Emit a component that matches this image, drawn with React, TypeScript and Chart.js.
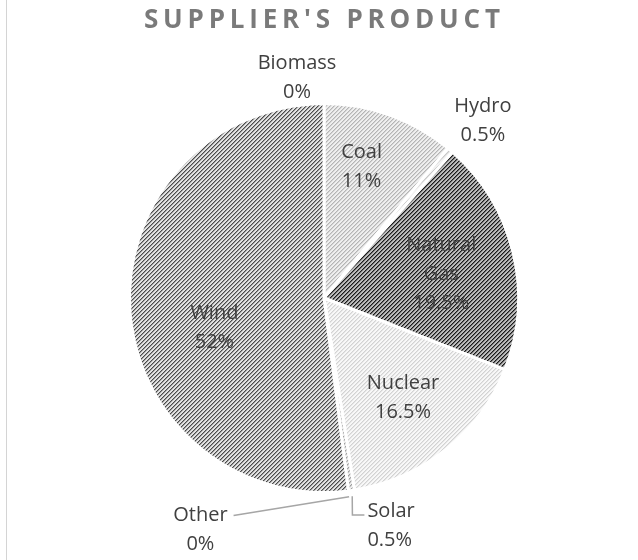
import React, { useEffect, useRef } from 'react';
import { Chart, registerables } from 'chart.js';

Chart.register(...registerables);

const titleText = "SUPPLIER'S PRODUCT";
const categories = ['Biomass', 'Coal', 'Hydro', 'Natural Gas', 'Nuclear', 'Solar', 'Other', 'Wind'];
const shares = [0, 11, 0.5, 19.5, 16.5, 0.5, 0, 52];
const shareLabels = ['0%', '11%', '0.5%', '19.5%', '16.5%', '0.5%', '0%', '52%'];

// hatch styles: background, stripe, stripe edge
const hatchBg = ['#e0e0e0', '#efefef', '#f2f2f2', '#bcbcbc', '#f8f8f8', '#ececec', '#e0e0e0', '#e2e2e2'];
const hatchFg = ['#808080', '#b4b4b4', '#c8c8c8', '#1a1a1a', '#d2d2d2', '#a0a0a0', '#808080', '#4a4a4a'];
const hatchMid = ['#b0b0b0', '#d4d4d4', '#dddddd', '#6e6e6e', '#e6e6e6', '#c6c6c6', '#b0b0b0', '#9c9c9c'];

type LabelCfg = { dist: number; dx: number; dy: number; align: CanvasTextAlign; wrap?: boolean; leader?: 'left' | 'right' };
const labelLayout: LabelCfg[] = [
  { dist: 1.138, dx: -27, dy: 0, align: 'center' },
  { dist: 0.722, dx: -10, dy: -1, align: 'center' },
  { dist: 1.226, dx: 4, dy: 3, align: 'center' },
  { dist: 0.62, dx: 0, dy: 2.5, align: 'center', wrap: true },
  { dist: 0.65, dx: 0, dy: 0, align: 'center' },
  { dist: 1.0, dx: 16, dy: 34, align: 'left', leader: 'left' },
  { dist: 1.0, dx: -148, dy: 37, align: 'center', leader: 'right' },
  { dist: 0.58, dx: 3, dy: 21, align: 'center' },
];

function makeHatch(bg: string, fg: string, mid: string): CanvasPattern | string {
  const c = document.createElement('canvas');
  c.width = 4;
  c.height = 4;
  const g = c.getContext('2d');
  if (!g) return bg;
  g.fillStyle = bg;
  g.fillRect(0, 0, 4, 4);
  for (let y = 0; y < 4; y++) {
    const x = 3 - y;
    g.fillStyle = fg;
    g.fillRect(x, y, 1, 1);
    g.fillStyle = mid;
    g.fillRect((x + 1) % 4, y, 1, 1);
  }
  return g.createPattern(c, 'repeat') || bg;
}

const LABEL_FONT = '20px "Open Sans"';
const LINE_H = 29;

const decorPlugin = {
  id: 'decor',
  afterDraw(chart: any) {
    const ctx: CanvasRenderingContext2D = chart.ctx;
    ctx.save();
    // left frame line
    ctx.strokeStyle = '#d4d4d4';
    ctx.lineWidth = 1;
    ctx.beginPath();
    ctx.moveTo(6.5, 0);
    ctx.lineTo(6.5, chart.height);
    ctx.stroke();

    // title
    ctx.font = 'bold 26px "Open Sans"';
    (ctx as any).letterSpacing = '0px';
    const w0 = ctx.measureText(titleText).width;
    const targetW = 356;
    const ls = (targetW - w0) / (titleText.length - 1);
    (ctx as any).letterSpacing = ls + 'px';
    ctx.fillStyle = '#7a7a7a';
    ctx.textAlign = 'left';
    ctx.textBaseline = 'alphabetic';
    ctx.fillText(titleText, 322 - targetW / 2, 28);
    (ctx as any).letterSpacing = '0px';

    // labels
    const meta = chart.getDatasetMeta(0);
    ctx.font = LABEL_FONT;
    ctx.fillStyle = '#404040';
    meta.data.forEach((arc: any, i: number) => {
      const p = arc.getProps(['x', 'y', 'startAngle', 'endAngle', 'outerRadius'], true);
      const cfg = labelLayout[i];
      const mid = (p.startAngle + p.endAngle) / 2;
      const lx = p.x + Math.cos(mid) * p.outerRadius * cfg.dist + cfg.dx;
      const ly = p.y + Math.sin(mid) * p.outerRadius * cfg.dist + cfg.dy;
      const lines = cfg.wrap ? [...categories[i].split(' '), shareLabels[i]] : [categories[i], shareLabels[i]];
      const top = ly - ((lines.length - 1) * LINE_H) / 2;
      ctx.textAlign = cfg.align;
      ctx.textBaseline = 'alphabetic';
      lines.forEach((t, k) => {
        ctx.fillText(t, lx, top + k * LINE_H + 7.2);
      });
      if (cfg.leader) {
        const rx = p.x + Math.cos(mid) * p.outerRadius * 1.03;
        const ry = p.y + Math.sin(mid) * p.outerRadius * 1.03;
        const firstW = ctx.measureText(lines[0]).width;
        ctx.strokeStyle = '#a6a6a6';
        ctx.lineWidth = 1.5;
        ctx.beginPath();
        if (cfg.leader === 'right') {
          const sx = (cfg.align === 'center' ? lx + firstW / 2 : lx + firstW) + 6;
          ctx.moveTo(sx, top + 2);
          ctx.lineTo(rx, ry);
        } else {
          const sx = lx - 3;
          ctx.moveTo(sx, top + 5);
          ctx.lineTo(sx - 12, top + 5);
          ctx.lineTo(rx, ry);
        }
        ctx.stroke();
      }
    });
    ctx.restore();
  },
};

export default function App() {
  const ref = useRef<HTMLCanvasElement | null>(null);
  useEffect(() => {
    if (!ref.current) return;
    const patterns = categories.map((_, i) => makeHatch(hatchBg[i], hatchFg[i], hatchMid[i]));
    const chart = new Chart(ref.current, {
      type: 'pie',
      data: {
        labels: categories,
        datasets: [
          {
            data: shares,
            backgroundColor: patterns as any,
            borderColor: '#ffffff',
            borderWidth: 3,
          },
        ],
      },
      options: {
        responsive: false,
        animation: false,
        events: [],
        layout: { padding: { left: 128, right: 118, top: 102, bottom: 66 } },
        plugins: {
          legend: { display: false },
          tooltip: { enabled: false },
          title: { display: false },
        },
      },
      plugins: [decorPlugin],
    });
    return () => chart.destroy();
  }, []);
  return (
    <div style={{ position: 'absolute', left: 0, top: 0, width: 638, height: 560, background: '#fff' }}>
      <canvas ref={ref} width={638} height={560} style={{ display: 'block' }} />
    </div>
  );
}
